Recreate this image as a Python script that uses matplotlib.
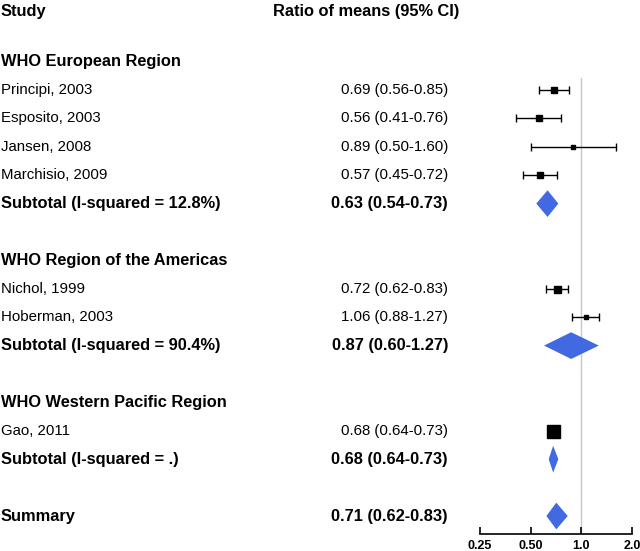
import numpy as np
import matplotlib.pyplot as plt
from matplotlib.patches import Polygon
from matplotlib.transforms import blended_transform_factory

plt.rcParams['font.family'] = ['Liberation Sans', 'DejaVu Sans']

# study rows
studies = ["Principi, 2003", "Esposito, 2003", "Jansen, 2008", "Marchisio, 2009",
           "Nichol, 1999", "Hoberman, 2003", "Gao, 2011"]
study_est = [0.69, 0.56, 0.89, 0.57, 0.72, 1.06, 0.68]
study_lo = [0.56, 0.41, 0.50, 0.45, 0.62, 0.88, 0.64]
study_hi = [0.85, 0.76, 1.60, 0.72, 0.83, 1.27, 0.73]
study_weight = [42, 36, 16, 36, 49, 25, 169]   # relative box area
study_row = [1, 2, 3, 4, 8, 9, 13]

# pooled rows
pooled = ["Subtotal (I-squared = 12.8%)", "Subtotal (I-squared = 90.4%)",
          "Subtotal (I-squared = .)", "Summary"]
pooled_est = [0.63, 0.87, 0.68, 0.71]
pooled_lo = [0.54, 0.60, 0.64, 0.62]
pooled_hi = [0.73, 1.27, 0.73, 0.83]
pooled_row = [5, 10, 14, 16]

regions = ["WHO European Region", "WHO Region of the Americas", "WHO Western Pacific Region"]
region_row = [0, 7, 12]

ticks = [0.25, 0.5, 1.0, 2.0]
tick_labels = ["0.25", "0.50", "1.0", "2.0"]

W, H = 640, 551
fig = plt.figure(figsize=(W / 100, H / 100), dpi=100)
ax = fig.add_axes([480 / W, 1 - 534 / H, 152 / W, 534 / H])
ax.set_xscale("log", base=2)
ax.set_xlim(0.25, 2.0)
# pixel y = 61.6 + 28.4 * row
ax.set_ylim((534 - 61.6) / 28.4, -61.6 / 28.4)

for s in ["top", "right", "left"]:
    ax.spines[s].set_visible(False)
ax.spines["bottom"].set_linewidth(1.2)
ax.set_yticks([])
ax.set_xticks(ticks)
ax.set_xticklabels(tick_labels, fontsize=9, fontweight="bold")
ax.minorticks_off()
ax.tick_params(axis="x", direction="in", length=5, width=1.2, pad=4)

# line of no effect
ax.plot([1, 1], [0.57, (534 - 61.6) / 28.4], color="#c8c8c8", lw=1, zorder=0)

# study estimates
for est, lo, hi, w, r in zip(study_est, study_lo, study_hi, study_weight, study_row):
    ax.errorbar(est, r, xerr=[[est - lo], [hi - est]], fmt="none", ecolor="black",
                elinewidth=1, capsize=2.6, capthick=1)
    ax.plot(est, r, marker="s", color="black", ms=np.sqrt(w) * 0.72, ls="none")

# pooled diamonds
h = 0.47
for est, lo, hi, r in zip(pooled_est, pooled_lo, pooled_hi, pooled_row):
    ax.add_patch(Polygon([[lo, r], [est, r - h], [hi, r], [est, r + h]],
                         closed=True, facecolor="#4169e1", edgecolor="none"))

# text columns
tr = blended_transform_factory(fig.transFigure, ax.transData)
xl = 1 / W
xv = 448 / W
fs = 10.8
fsb = 11.8
head_row = -1.75
fig.text(xl, head_row, "Study", transform=tr, fontsize=fsb, fontweight="bold", va="center")
ax.text(459 / W, head_row, "Ratio of means (95% CI)", transform=tr, fontsize=fsb,
        fontweight="bold", va="center", ha="right")

for name, r in zip(regions, region_row):
    ax.text(xl, r, name, transform=tr, fontsize=fsb, fontweight="bold", va="center")

for name, est, lo, hi, r in zip(studies, study_est, study_lo, study_hi, study_row):
    ax.text(xl, r, name, transform=tr, fontsize=fs, va="center")
    ax.text(xv, r, f"{est:.2f} ({lo:.2f}-{hi:.2f})", transform=tr, fontsize=fs,
            va="center", ha="right")

for name, est, lo, hi, r in zip(pooled, pooled_est, pooled_lo, pooled_hi, pooled_row):
    ax.text(xl, r, name, transform=tr, fontsize=fsb, fontweight="bold", va="center")
    ax.text(xv, r, f"{est:.2f} ({lo:.2f}-{hi:.2f})", transform=tr, fontsize=fsb,
            fontweight="bold", va="center", ha="right")

fig.savefig("out.png", dpi=100)
